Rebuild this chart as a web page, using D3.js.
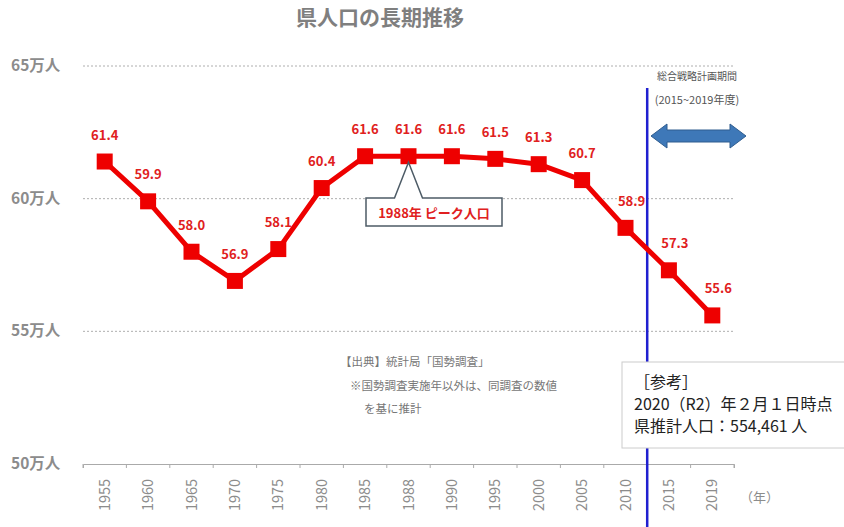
<!DOCTYPE html>
<html><head><meta charset="utf-8">
<script src="https://cdn.jsdelivr.net/npm/d3@7"></script>
<style>
body{margin:0;background:#fff;}
text{font-family:"Noto Sans CJK JP","Noto Sans",sans-serif;}
</style></head>
<body>
<svg id="chart" width="844" height="527"></svg>
<script>
const years = ["1955","1960","1965","1970","1975","1980","1985","1988","1990","1995","2000","2005","2010","2015","2019"];
const population = [61.4,59.9,58.0,56.9,58.1,60.4,61.6,61.6,61.6,61.5,61.3,60.7,58.9,57.3,55.6];
const yTicks = [50,55,60,65];

const svg = d3.select("#chart");
const x = d3.scaleBand().domain(years).range([83, 734]);
const y = d3.scaleLinear().domain([50, 65]).range([464, 66]);
const grey = "#8c8c8c";

// title
svg.append("text").attr("x", 380).attr("y", 25).attr("text-anchor", "middle")
  .attr("font-size", 21).attr("font-weight", "bold").attr("fill", "#7f7f7f").text("県人口の長期推移");

// gridlines
svg.append("g").selectAll("line").data(yTicks.filter(d => d > 50)).join("line")
  .attr("x1", 83).attr("x2", 735).attr("y1", d => y(d)).attr("y2", d => y(d))
  .attr("stroke", "#999").attr("stroke-dasharray", "2,2").attr("stroke-width", 0.8);

// y labels
svg.append("g").selectAll("text").data(yTicks).join("text")
  .attr("x", 11).attr("y", d => y(d) + 5).attr("font-size", 15.5).attr("font-weight", "bold")
  .attr("fill", grey).text(d => d + "万人");

// x axis
const xAxis = d3.axisBottom(x).tickSize(4).tickFormat("");
const gx = svg.append("g").attr("transform", "translate(0,464)").call(xAxis);
gx.select(".domain").attr("stroke", "#aaa");
gx.selectAll(".tick").remove();
gx.selectAll(".edge").data(years.map(d => x(d)).concat([x.range()[1]])).join("line")
  .attr("x1", d => d).attr("x2", d => d).attr("y1", 0).attr("y2", 4).attr("stroke", "#aaa");
gx.selectAll(".lbl").data(years).join("text")
  .attr("transform", d => `translate(${x(d) + x.bandwidth() / 2 + 5},${31}) rotate(-90)`)
  .attr("text-anchor", "middle").attr("font-size", 14.5).attr("fill", grey)
  .attr("font-family", "'Open Sans',sans-serif").text(d => d);
svg.append("text").attr("x", 740).attr("y", 502).attr("font-size", 13).attr("fill", grey).text("（年）");

// source note
const note = svg.append("g").attr("font-size", 11.5).attr("fill", "#777");
note.append("text").attr("x", 340).attr("y", 366).text("【出典】統計局「国勢調査」");
note.append("text").attr("x", 350).attr("y", 390).text("※国勢調査実施年以外は、同調査の数値");
note.append("text").attr("x", 364).attr("y", 413).text("を基に推計");

// plan period marker
const split = x("2015");
svg.append("line").attr("x1", split).attr("x2", split).attr("y1", 88).attr("y2", 527)
  .attr("stroke", "#2020d0").attr("stroke-width", 2.5);
svg.append("text").attr("x", 697).attr("y", 80).attr("text-anchor", "middle").attr("font-size", 10)
  .attr("fill", "#555").text("総合戦略計画期間");
svg.append("text").attr("x", 697).attr("y", 104).attr("text-anchor", "middle").attr("font-size", 11)
  .attr("fill", "#555").text("(2015~2019年度)");
const ax0 = 651, ax1 = 746, ay = 136;
svg.append("path")
  .attr("d", `M${ax0},${ay} L${ax0 + 16},${ay - 12} L${ax0 + 16},${ay - 6} L${ax1 - 16},${ay - 6} L${ax1 - 16},${ay - 12} L${ax1},${ay} L${ax1 - 16},${ay + 12} L${ax1 - 16},${ay + 6} L${ax0 + 16},${ay + 6} L${ax0 + 16},${ay + 12} Z`)
  .attr("fill", "#3e78b8").attr("stroke", "#2f5d8f").attr("stroke-width", 1);

// reference box (covers the blue line)
svg.append("rect").attr("x", 622).attr("y", 362).attr("width", 230).attr("height", 86)
  .attr("fill", "#fff").attr("stroke", "#ccc");
const ref = svg.append("g").attr("font-size", 16).attr("fill", "#222");
ref.append("text").attr("x", 634).attr("y", 388).text("［参考］");
ref.append("text").attr("x", 634).attr("y", 410).text("2020（R2）年２月１日時点");
ref.append("text").attr("x", 634).attr("y", 432).text("県推計人口：554,461 人");

// line + markers
const cx = d => x(d) + x.bandwidth() / 2;
const pts = years.map((yr, i) => [cx(yr), y(population[i])]);
svg.append("path").datum(pts).attr("d", d3.line()).attr("fill", "none")
  .attr("stroke", "#ee0000").attr("stroke-width", 5).attr("stroke-linejoin", "round");
svg.append("g").selectAll("rect").data(pts).join("rect")
  .attr("x", d => d[0] - 8).attr("y", d => d[1] - 8).attr("width", 16).attr("height", 16)
  .attr("fill", "#ee0000");

// value labels
svg.append("g").selectAll("text").data(years).join("text")
  .attr("x", (d, i) => cx(d) + (i >= 12 ? 6 : 0))
  .attr("y", (d, i) => y(population[i]) - 22)
  .attr("text-anchor", "middle").attr("font-size", 13).attr("font-weight", "bold")
  .attr("fill", "#e02020").text((d, i) => population[i].toFixed(1));

// peak callout
const px = cx("1988"), py = y(61.6);
svg.append("path")
  .attr("d", `M366,198 L${px - 14},198 L${px},${py + 6} L${px + 14},198 L502,198 L502,226 L366,226 Z`)
  .attr("fill", "#fff").attr("stroke", "#4d5b66").attr("stroke-width", 1.5);
svg.append("text").attr("x", 434).attr("y", 218).attr("text-anchor", "middle").attr("font-size", 13)
  .attr("font-weight", "bold").attr("fill", "#e02020").text("1988年 ピーク人口");
</script>
</body></html>
